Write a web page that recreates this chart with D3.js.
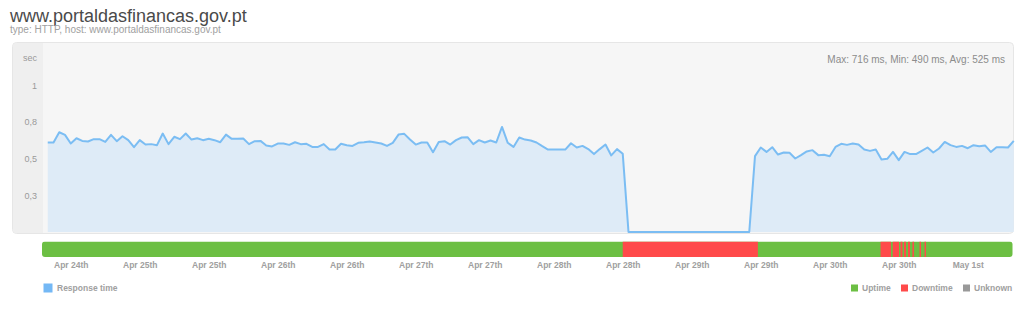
<!DOCTYPE html>
<html>
<head>
<meta charset="utf-8">
<script src="https://cdn.jsdelivr.net/npm/d3@7"></script>
<style>
  body { margin: 0; background: #fff; }
  svg { font-family: "Liberation Sans", Arial, Helvetica, sans-serif; display: block; }
</style>
</head>
<body>
<div id="chart"></div>
<script>
/* response time in seconds, one point per hour */
var firstPoint = "2018-04-24T08:00";
var responseTimes = [
  0.610,0.610,0.680,0.662,0.603,0.639,0.621,0.617,0.633,0.633,
  0.614,0.662,0.619,0.653,0.626,0.578,0.626,0.596,0.599,0.592,
  0.671,0.599,0.649,0.633,0.671,0.630,0.639,0.626,0.635,0.626,
  0.612,0.664,0.635,0.635,0.637,0.599,0.619,0.621,0.590,0.583,
  0.603,0.603,0.594,0.612,0.599,0.601,0.580,0.580,0.599,0.562,
  0.562,0.601,0.592,0.587,0.608,
  0.612,0.617,0.610,0.603,0.587,0.608,0.664,0.669,0.630,0.596,
  0.610,0.610,0.544,0.614,0.619,0.596,0.626,0.644,0.646,0.599,
  0.626,0.610,0.624,0.610,0.716,0.608,0.580,0.644,0.630,0.624,
  0.610,0.585,0.562,0.562,0.562,0.562,0.605,0.576,0.587,0.565,
  0.531,0.565,0.596,0.522,0.565,0.533,
  0,0,0,0,0,0,0,0,0,0,0,0,0,0,0,0,0,0,0,0,0,0,
  0.517,0.576,0.546,0.578,0.528,0.542,0.540,0.501,0.524,0.549,
  0.558,0.524,0.526,0.517,0.580,0.601,0.594,0.603,0.596,0.562,
  0.553,0.562,0.494,0.499,0.546,0.490,0.546,0.531,0.531,0.553,
  0.576,0.542,0.569,0.614,0.592,0.580,0.587,0.571,0.592,0.585,
  0.590,0.546,0.578,0.578,0.576,0.621
];

/* status bar */
var periodStart = "2018-04-24T07:00";
var periodEnd = "2018-05-01T08:00";
var downtimeStart = ["2018-04-28T12:00","2018-04-30T08:50","2018-04-30T10:57","2018-04-30T12:18","2018-04-30T12:55",
                     "2018-04-30T13:37","2018-04-30T14:23","2018-04-30T15:37","2018-04-30T16:29"];
var downtimeEnd   = ["2018-04-29T11:30","2018-04-30T10:39","2018-04-30T12:03","2018-04-30T12:39","2018-04-30T13:16",
                     "2018-04-30T13:57","2018-04-30T14:39","2018-04-30T15:52","2018-04-30T16:44"];

var xTickTimes = ["2018-04-24T12:00","2018-04-25T00:00","2018-04-25T12:00","2018-04-26T00:00","2018-04-26T12:00",
                  "2018-04-27T00:00","2018-04-27T12:00","2018-04-28T00:00","2018-04-28T12:00","2018-04-29T00:00",
                  "2018-04-29T12:00","2018-04-30T00:00","2018-04-30T12:00","2018-05-01T00:00"];
var xTickLabels = ["Apr 24th","Apr 25th","Apr 25th","Apr 26th","Apr 26th","Apr 27th","Apr 27th",
                   "Apr 28th","Apr 28th","Apr 29th","Apr 29th","Apr 30th","Apr 30th","May 1st"];
var yTickValues = [0.25, 0.5, 0.75, 1];
var yTickLabels = ["0,3", "0,5", "0,8", "1"];

var statNames = ["Max", "Min", "Avg"];
var statValues = [716, 490, 525];

var legendNames = ["Uptime", "Downtime", "Unknown"];
var legendColors = ["#6cbf43", "#ff4a4a", "#999999"];

var width = 1024, height = 315;
var parse = d3.utcParse("%Y-%m-%dT%H:%M");

var svg = d3.select("#chart").append("svg").attr("width", width).attr("height", height);

/* header */
svg.append("text").attr("x", 10).attr("y", 22)
    .attr("font-size", 18).attr("fill", "#4a4a4a")
    .text("www.portaldasfinancas.gov.pt");
svg.append("text").attr("x", 10).attr("y", 33)
    .attr("font-size", 10).attr("fill", "#a0a0a0")
    .text("type: HTTP, host: www.portaldasfinancas.gov.pt");

/* panel */
svg.append("rect").attr("x", 12.5).attr("y", 42.5).attr("width", 1001).attr("height", 191)
    .attr("rx", 4).attr("fill", "#f6f6f6").attr("stroke", "#e6e6e6");
svg.append("path").attr("d", "M16.5,43 H43 V233 H16.5 Q13,233 13,229.5 V46.5 Q13,43 16.5,43 Z")
    .attr("fill", "#efefef");

var x = d3.scaleUtc()
    .domain([parse(periodStart), parse(periodEnd)])
    .range([42, 1013.75]);

var y = d3.scaleLinear()
    .domain([0, 1])
    .range([232, 85.3]);

var points = responseTimes.map(function(v, i) {
  return {t: d3.utcHour.offset(parse(firstPoint), i), v: v};
});

var area = d3.area()
    .x(function(d) { return x(d.t); })
    .y0(y(0))
    .y1(function(d) { return y(d.v); });

var line = d3.line()
    .x(function(d) { return x(d.t); })
    .y(function(d) { return y(d.v); });

svg.append("path").datum(points)
    .attr("fill", "#deebf7")
    .attr("d", area);

svg.append("path").datum(points)
    .attr("fill", "none")
    .attr("stroke", "#7bbdf3")
    .attr("stroke-width", 2)
    .attr("stroke-linejoin", "round")
    .attr("d", line);

/* y axis */
var yAxis = svg.append("g")
    .attr("transform", "translate(37,0)")
    .call(d3.axisLeft(y).tickValues(yTickValues).tickSize(0).tickPadding(0)
      .tickFormat(function(d, i) { return yTickLabels[i]; }));
yAxis.select(".domain").remove();
yAxis.selectAll("text").attr("fill", "#9a9a9a").attr("font-size", 9)
    .attr("font-family", "Liberation Sans, Arial, sans-serif");

svg.append("text").attr("x", 37).attr("y", 61).attr("text-anchor", "end")
    .attr("font-size", 9).attr("fill", "#9a9a9a").text("sec");

svg.append("text").attr("x", 1005).attr("y", 63).attr("text-anchor", "end")
    .attr("font-size", 10).attr("fill", "#8c8c8c")
    .text(statNames.map(function(n, i) { return n + ": " + statValues[i] + " ms"; }).join(", "));

/* status bar */
svg.append("clipPath").attr("id", "barclip")
  .append("rect").attr("x", 42).attr("y", 241.5).attr("width", 970.5).attr("height", 15.5).attr("rx", 3);

var bar = svg.append("g").attr("clip-path", "url(#barclip)");
bar.append("rect")
    .attr("x", x(parse(periodStart))).attr("y", 241.5)
    .attr("width", x(parse(periodEnd)) - x(parse(periodStart))).attr("height", 15.5)
    .attr("fill", legendColors[0]);
bar.selectAll(".down")
  .data(downtimeStart)
  .enter().append("rect")
    .attr("class", "down")
    .attr("x", function(d) { return x(parse(d)); })
    .attr("y", 241.5)
    .attr("width", function(d, i) { return x(parse(downtimeEnd[i])) - x(parse(d)); })
    .attr("height", 15.5)
    .attr("fill", legendColors[1]);

/* x axis */
var xAxis = svg.append("g")
    .attr("transform", "translate(0,262)")
    .call(d3.axisBottom(x).tickValues(xTickTimes.map(parse)).tickSize(0).tickPadding(0)
      .tickFormat(function(d, i) { return xTickLabels[i]; }));
xAxis.select(".domain").remove();
xAxis.selectAll("text").attr("fill", "#a0a0a0").attr("font-size", 8.5)
    .attr("font-weight", "bold").attr("font-family", "Liberation Sans, Arial, sans-serif");

/* legends */
svg.append("rect").attr("x", 43.5).attr("y", 283.5).attr("width", 9).attr("height", 9).attr("fill", "#74b8f5");
svg.append("text").attr("x", 57).attr("y", 291).attr("font-size", 8.5).attr("font-weight", "bold")
    .attr("fill", "#a0a0a0").text("Response time");

var legendX = [851, 901, 963];
var lg = svg.selectAll(".lg").data(legendNames).enter().append("g").attr("class", "lg")
    .attr("transform", function(d, i) { return "translate(" + legendX[i] + ",0)"; });
lg.append("rect").attr("x", 0).attr("y", 284.5).attr("width", 7).attr("height", 7)
    .attr("fill", function(d, i) { return legendColors[i]; });
lg.append("text").attr("x", 11).attr("y", 291).attr("font-size", 8.5).attr("font-weight", "bold")
    .attr("fill", "#a0a0a0").text(function(d) { return d; });
</script>
</body>
</html>
